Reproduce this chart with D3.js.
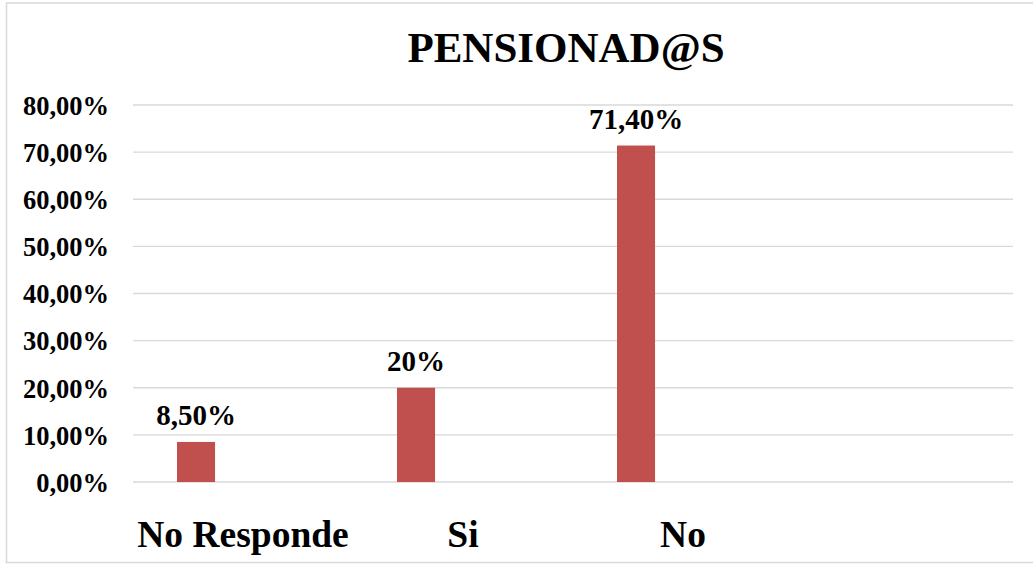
<!DOCTYPE html>
<html>
<head>
<meta charset="utf-8">
<script src="https://cdn.jsdelivr.net/npm/d3@7/dist/d3.min.js"></script>
<style>
    html, body { margin: 0; padding: 0; background: #fff; }
    svg { display: block; font-family: "Liberation Serif", "Times New Roman", serif; font-weight: bold; }
</style>
</head>
<body>
<svg id="chart" width="1033" height="564"></svg>
<script>
// categories (the 4th slot is empty in the original)
const categories = ["No Responde", "Si", "No", ""];
const values = [8.5, 20, 71.4];
const valueLabels = ["8,50%", "20%", "71,40%"];
const yTicks = [0, 10, 20, 30, 40, 50, 60, 70, 80];
const yTickLabels = ["0,00%", "10,00%", "20,00%", "30,00%", "40,00%", "50,00%", "60,00%", "70,00%", "80,00%"];
const title = "PENSIONAD@S";

const svg = d3.select("#chart");
const width = 1033, height = 564;

const margin = {top: 105, right: 20, bottom: 82, left: 133};
const innerWidth = width - margin.left - margin.right;
const innerHeight = height - margin.top - margin.bottom;

// outer frame (right side runs off the picture, as in the original)
svg.append("rect")
    .attr("x", 6.5).attr("y", 3)
    .attr("width", 1040).attr("height", 559.5)
    .attr("fill", "none")
    .attr("stroke", "#d9d9d9")
    .attr("stroke-width", 1.5);

svg.append("text")
    .attr("x", 566)
    .attr("y", 62)
    .attr("text-anchor", "middle")
    .style("font-size", "43px")
    .text(title);

const g = svg.append("g")
    .attr("transform", "translate(" + margin.left + "," + margin.top + ")");

const x = d3.scaleBand()
    .domain(categories)
    .range([0, innerWidth]);

const y = d3.scaleLinear()
    .domain([0, 80])
    .range([innerHeight, 0]);

// gridlines
g.selectAll(".grid")
    .data(yTicks)
    .enter().append("line")
    .attr("class", "grid")
    .attr("x1", 0).attr("x2", innerWidth)
    .attr("y1", d => y(d)).attr("y2", d => y(d))
    .attr("stroke", "#d9d9d9")
    .attr("stroke-width", 1.3);

// y axis labels
const yAxis = d3.axisLeft(y)
    .tickValues(yTicks)
    .tickFormat((d, i) => yTickLabels[i])
    .tickSize(0)
    .tickPadding(24);

g.append("g")
    .attr("class", "y axis")
    .call(yAxis)
    .call(a => a.select(".domain").remove())
    .selectAll("text")
    .attr("fill", "#000")
    .attr("dy", "0.35em")
    .style("font-family", "Liberation Serif, Times New Roman, serif")
    .style("font-weight", "bold")
    .style("font-size", "26.5px");

// x axis labels
const xAxis = d3.axisBottom(x).tickSize(0).tickPadding(38);

g.append("g")
    .attr("class", "x axis")
    .attr("transform", "translate(0," + innerHeight + ")")
    .call(xAxis)
    .call(a => a.select(".domain").remove())
    .selectAll("text")
    .attr("fill", "#000")
    .style("font-family", "Liberation Serif, Times New Roman, serif")
    .style("font-weight", "bold")
    .style("font-size", "37.5px");

// bars sit in the left part of each category slot
const bw = x.bandwidth();
const barOffset = bw * 0.2;
const barWidth = bw * 0.173;
const barData = values.map((v, i) => ({cat: categories[i], value: v, label: valueLabels[i]}));

g.selectAll(".bar")
    .data(barData)
    .enter().append("rect")
    .attr("class", "bar")
    .attr("x", d => x(d.cat) + barOffset)
    .attr("y", d => y(d.value))
    .attr("width", barWidth)
    .attr("height", d => innerHeight - y(d.value))
    .attr("fill", "#c0504d");

g.selectAll(".bar-label")
    .data(barData)
    .enter().append("text")
    .attr("class", "bar-label")
    .attr("x", d => x(d.cat) + barOffset + barWidth / 2)
    .attr("y", d => y(d.value) - 17)
    .attr("text-anchor", "middle")
    .style("font-size", "29px")
    .text(d => d.label);
</script>
</body>
</html>
